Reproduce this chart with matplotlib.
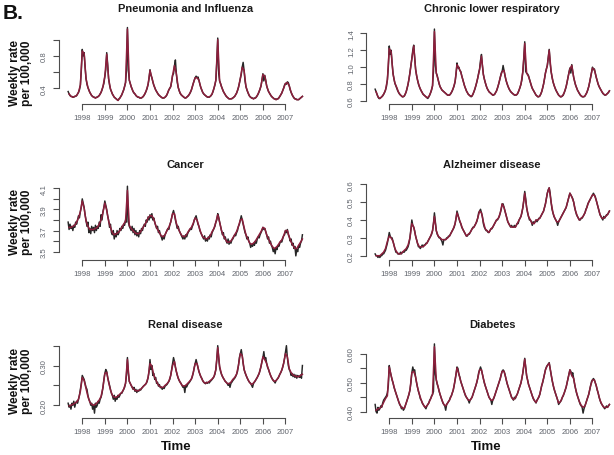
import numpy as np
import matplotlib.pyplot as plt

plt.rcParams['font.family'] = ['Liberation Sans', 'DejaVu Sans']

# observed weekly rates, read off at half-month steps from mid-May 1997
# fitted (model) rates, read off at month starts from June 1997
years = list(range(1998, 2008))

pi_obs = [
    .36, .33, .31, .30, .30, .29, .29, .30, .30, .31, .33, .35, .38, .44, .62,
    .88, .80, .84, .66, .52, .45, .41, .38, .35, .33, .31, .30, .29, .29, .28, .29, .29, .30, .31, .33, .35, .38, .42, .46,
    .55, .63, .84, .70, .52, .44, .39, .36, .33, .31, .29, .28, .27, .26, .25, .27, .28, .30, .32, .35, .38, .42, .47, .62,
    1.15, .62, .50, .46, .42, .39, .36, .34, .33, .31, .30, .29, .29, .28, .28, .28, .29, .30, .32, .34, .37, .40, .45, .52,
    .63, .56, .53, .48, .44, .41, .38, .36, .34, .32, .31, .30, .29, .28, .28, .28, .29, .30, .32, .35, .38, .40, .42, .48,
    .56, .58, .68, .75, .58, .47, .41, .37, .34, .32, .31, .30, .29, .28, .28, .29, .30, .31, .33, .35, .38, .42, .46, .50,
    .53, .55, .53, .54, .50, .45, .41, .38, .35, .33, .32, .31, .30, .29, .29, .29, .30, .31, .33, .36, .40, .44, .50, .72,
    1.02, .58, .49, .46, .42, .39, .36, .34, .32, .30, .29, .28, .27, .27, .27, .27, .28, .29, .30, .32, .34, .37, .41, .46,
    .52, .57, .66, .72, .62, .49, .42, .38, .35, .32, .30, .29, .28, .28, .27, .28, .28, .29, .31, .33, .36, .39, .43, .50,
    .58, .49, .56, .50, .43, .39, .36, .34, .32, .30, .29, .28, .27, .27, .26, .27, .27, .28, .30, .32, .34, .37, .40, .44,
    .46, .45, .48, .47, .43, .38, .35, .32, .30, .28, .27, .27, .26, .26, .26, .27, .28, .29, .30,
]
pi_fit = [
    .33, .30, .29, .30, .31, .35, .44,
    .86, .83, .52, .41, .35, .31, .29, .28, .29, .31, .35, .42,
    .55, .82, .52, .39, .33, .29, .27, .25, .28, .32, .38, .47,
    1.13, .50, .42, .36, .33, .30, .29, .28, .29, .32, .37, .45,
    .62, .53, .44, .38, .34, .31, .29, .28, .29, .32, .38, .42,
    .56, .68, .58, .41, .34, .31, .29, .28, .30, .33, .38, .46,
    .53, .53, .50, .41, .35, .32, .30, .29, .30, .33, .40, .50,
    1.00, .49, .42, .36, .32, .29, .27, .27, .28, .30, .34, .41,
    .52, .66, .62, .42, .35, .30, .28, .27, .28, .31, .36, .43,
    .57, .55, .43, .36, .32, .29, .27, .26, .27, .30, .34, .40,
    .46, .47, .43, .35, .30, .27, .26, .26, .28, .30,
]

clrd_obs = [
    .74, .71, .68, .65, .63, .63, .64, .65, .66, .68, .70, .73, .77, .85, 1.00,
    1.25, 1.15, 1.20, 1.05, .93, .86, .81, .78, .75, .72, .70, .68, .67, .66, .65, .65, .66, .68, .71, .75, .80, .86, .94, 1.02,
    1.10, 1.20, 1.26, 1.12, .98, .90, .85, .80, .77, .74, .72, .70, .68, .67, .66, .65, .64, .63, .65, .67, .70, .73, .78, .95,
    1.45, 1.02, .93, .90, .85, .80, .77, .75, .73, .72, .71, .70, .69, .68, .67, .67, .67, .68, .70, .72, .75, .78, .83, .92,
    1.05, .99, 1.00, .96, .95, .90, .86, .82, .78, .75, .72, .70, .68, .67, .66, .65, .66, .68, .71, .74, .78, .82, .87, .93,
    .98, 1.08, 1.15, 1.02, .92, .86, .82, .78, .75, .73, .71, .70, .69, .68, .67, .67, .68, .70, .72, .75, .79, .83, .88, .93,
    .95, 1.02, .96, .90, .85, .81, .78, .75, .73, .71, .70, .69, .68, .67, .67, .67, .68, .70, .73, .76, .80, .85, .95, 1.10,
    1.30, .95, .93, .92, .90, .86, .82, .78, .75, .73, .71, .69, .67, .66, .65, .65, .66, .68, .71, .75, .80, .86, .93, .98,
    1.02, 1.12, 1.21, 1.05, .95, .88, .83, .79, .76, .73, .71, .69, .67, .66, .65, .65, .66, .67, .70, .73, .77, .82, .88, .94,
    .99, .93, 1.03, .95, .88, .83, .79, .76, .73, .71, .69, .67, .66, .65, .65, .65, .66, .68, .70, .73, .77, .82, .88, .94,
    1.00, .97, .98, .93, .88, .84, .80, .77, .75, .73, .71, .69, .68, .67, .67, .68, .69, .70, .72,
]
clrd_fit = [
    .71, .65, .63, .65, .68, .73, .85,
    1.22, 1.18, .92, .81, .76, .70, .67, .65, .66, .71, .80, .93,
    1.10, 1.25, .97, .85, .77, .72, .68, .66, .64, .65, .70, .78,
    1.42, .93, .85, .77, .73, .71, .69, .67, .67, .70, .75, .83,
    1.03, .99, .94, .86, .78, .72, .68, .66, .66, .71, .78, .87,
    .97, 1.13, .91, .82, .75, .71, .69, .67, .68, .72, .79, .88,
    .95, .96, .85, .78, .73, .70, .68, .67, .68, .73, .80, .95,
    1.28, .93, .89, .82, .75, .71, .67, .65, .66, .71, .80, .93,
    1.02, 1.20, .95, .83, .76, .71, .67, .65, .66, .70, .77, .88,
    .98, 1.02, .88, .79, .73, .69, .66, .65, .66, .70, .77, .88,
    .99, .97, .88, .80, .75, .71, .68, .67, .69, .72,
]

cancer_obs = [
    3.78, 3.71, 3.76, 3.72, 3.74, 3.70, 3.75, 3.73, 3.78, 3.76, 3.80, 3.84, 3.82, 3.88, 3.92,
    4.00, 3.96, 3.92, 3.85, 3.80, 3.74, 3.78, 3.68, 3.72, 3.67, 3.74, 3.70, 3.73, 3.68, 3.75, 3.70, 3.74, 3.72, 3.78, 3.74, 3.85, 3.80, 3.88, 3.92,
    3.98, 3.94, 3.90, 3.84, 3.80, 3.73, 3.76, 3.68, 3.66, 3.70, 3.62, 3.67, 3.64, 3.70, 3.66, 3.68, 3.72, 3.70, 3.74, 3.72, 3.76, 3.75, 3.80, 3.78,
    4.12, 3.78, 3.74, 3.72, 3.70, 3.74, 3.68, 3.72, 3.66, 3.70, 3.65, 3.68, 3.64, 3.70, 3.67, 3.72, 3.70, 3.74, 3.76, 3.74, 3.80, 3.78, 3.83, 3.80,
    3.85, 3.82, 3.86, 3.80, 3.82, 3.78, 3.75, 3.72, 3.74, 3.68, 3.70, 3.66, 3.64, 3.61, 3.65, 3.62, 3.66, 3.68, 3.70, 3.72, 3.71, 3.75, 3.78, 3.82,
    3.86, 3.89, 3.85, 3.80, 3.76, 3.72, 3.74, 3.70, 3.68, 3.66, 3.64, 3.62, 3.65, 3.62, 3.66, 3.64, 3.67, 3.69, 3.70, 3.72, 3.71, 3.74, 3.76, 3.80,
    3.82, 3.84, 3.80, 3.76, 3.74, 3.70, 3.68, 3.66, 3.64, 3.62, 3.65, 3.60, 3.62, 3.60, 3.64, 3.62, 3.66, 3.64, 3.68, 3.70, 3.72, 3.74, 3.78, 3.80,
    3.86, 3.83, 3.78, 3.74, 3.70, 3.66, 3.68, 3.62, 3.64, 3.60, 3.58, 3.62, 3.57, 3.60, 3.58, 3.61, 3.62, 3.64, 3.66, 3.65, 3.68, 3.70, 3.74, 3.76,
    3.80, 3.84, 3.80, 3.76, 3.72, 3.68, 3.66, 3.62, 3.64, 3.60, 3.58, 3.54, 3.57, 3.55, 3.58, 3.56, 3.60, 3.58, 3.62, 3.64, 3.63, 3.66, 3.68, 3.70,
    3.73, 3.71, 3.72, 3.69, 3.66, 3.62, 3.64, 3.58, 3.60, 3.56, 3.54, 3.50, 3.53, 3.48, 3.54, 3.52, 3.56, 3.55, 3.58, 3.60, 3.59, 3.62, 3.65, 3.66,
    3.70, 3.68, 3.71, 3.66, 3.64, 3.60, 3.62, 3.56, 3.58, 3.53, 3.55, 3.46, 3.52, 3.50, 3.56, 3.54, 3.58, 3.60, 3.66,
]
cancer_fit = [
    3.73, 3.73, 3.74, 3.75, 3.78, 3.82, 3.88,
    3.98, 3.91, 3.79, 3.74, 3.71, 3.71, 3.71, 3.72, 3.73, 3.76, 3.80, 3.87,
    3.96, 3.89, 3.79, 3.73, 3.68, 3.66, 3.67, 3.68, 3.70, 3.73, 3.76, 3.79,
    4.08, 3.75, 3.72, 3.70, 3.68, 3.67, 3.67, 3.69, 3.72, 3.75, 3.78, 3.82,
    3.84, 3.84, 3.81, 3.75, 3.71, 3.68, 3.65, 3.64, 3.66, 3.70, 3.73, 3.78,
    3.86, 3.86, 3.77, 3.72, 3.68, 3.65, 3.64, 3.65, 3.68, 3.71, 3.73, 3.77,
    3.82, 3.80, 3.74, 3.68, 3.64, 3.63, 3.62, 3.63, 3.65, 3.69, 3.72, 3.78,
    3.85, 3.78, 3.70, 3.65, 3.62, 3.59, 3.59, 3.60, 3.63, 3.66, 3.69, 3.74,
    3.80, 3.81, 3.73, 3.66, 3.62, 3.58, 3.57, 3.58, 3.60, 3.63, 3.66, 3.69,
    3.73, 3.72, 3.66, 3.62, 3.58, 3.55, 3.53, 3.54, 3.56, 3.59, 3.61, 3.65,
    3.70, 3.70, 3.64, 3.59, 3.56, 3.53, 3.53, 3.56, 3.59, 3.62,
]

alz_obs = [
    .21, .20, .20, .19, .20, .19, .20, .20, .21, .21, .22, .23, .25, .27, .30,
    .33, .31, .30, .30, .28, .26, .24, .22, .22, .21, .21, .21, .22, .21, .22, .22, .22, .23, .23, .24, .25, .27, .30, .35,
    .40, .37, .36, .34, .31, .29, .27, .25, .25, .24, .25, .26, .25, .26, .26, .27, .27, .28, .29, .30, .31, .32, .34, .38,
    .44, .39, .34, .32, .31, .30, .30, .29, .28, .26, .29, .29, .29, .30, .30, .31, .31, .32, .33, .34, .35, .36, .38, .41,
    .45, .43, .41, .39, .38, .36, .35, .34, .33, .32, .31, .31, .32, .32, .33, .34, .35, .36, .36, .37, .38, .39, .41, .44,
    .45, .46, .44, .42, .38, .36, .35, .34, .34, .33, .33, .34, .35, .35, .36, .37, .38, .39, .40, .40, .41, .42, .44, .46,
    .49, .49, .47, .45, .43, .41, .39, .38, .37, .36, .37, .36, .36, .37, .36, .37, .38, .38, .40, .41, .42, .44, .47, .51,
    .56, .52, .47, .44, .42, .40, .40, .39, .37, .39, .38, .39, .40, .39, .40, .41, .41, .42, .43, .44, .45, .47, .49, .52,
    .55, .57, .58, .55, .50, .46, .44, .42, .41, .40, .39, .37, .39, .40, .41, .42, .43, .44, .45, .46, .47, .49, .51, .53,
    .55, .54, .53, .52, .50, .47, .45, .43, .42, .41, .40, .40, .41, .41, .42, .43, .44, .46, .47, .49, .50, .51, .52, .53,
    .54, .55, .54, .53, .51, .49, .47, .45, .43, .42, .41, .40, .42, .41, .42, .43, .43, .44, .45,
]
alz_fit = [
    .20, .20, .20, .21, .22, .24, .28,
    .31, .30, .28, .24, .22, .21, .21, .22, .23, .24, .26, .30,
    .38, .36, .31, .27, .25, .25, .25, .26, .27, .29, .31, .34,
    .42, .34, .31, .30, .29, .29, .29, .30, .31, .33, .35, .38,
    .44, .41, .38, .35, .33, .31, .32, .33, .35, .36, .38, .41,
    .45, .44, .39, .35, .34, .33, .35, .36, .38, .40, .41, .44,
    .49, .47, .43, .39, .37, .36, .36, .36, .38, .40, .42, .47,
    .55, .47, .42, .40, .38, .38, .40, .40, .41, .43, .45, .49,
    .55, .58, .50, .44, .41, .39, .39, .41, .43, .45, .47, .51,
    .55, .53, .50, .45, .42, .40, .41, .42, .44, .47, .50, .52,
    .54, .54, .51, .47, .43, .41, .41, .42, .43, .45,
]

renal_obs = [
    .205, .195, .200, .190, .205, .200, .210, .195, .205, .210, .205, .215, .225, .240, .255,
    .275, .270, .265, .255, .245, .240, .225, .215, .210, .200, .205, .190, .200, .180, .205, .195, .200, .210, .205, .215, .220, .230, .245, .265,
    .280, .290, .285, .270, .260, .250, .240, .230, .225, .215, .225, .210, .220, .215, .225, .220, .225, .230, .230, .235, .240, .245, .255, .275,
    .320, .280, .260, .255, .250, .245, .240, .245, .235, .240, .232, .238, .235, .240, .238, .242, .245, .248, .250, .252, .255, .260, .270, .285,
    .315, .290, .300, .275, .280, .265, .270, .255, .258, .248, .252, .244, .246, .240, .245, .242, .248, .250, .252, .256, .260, .265, .275, .290,
    .305, .320, .310, .295, .285, .275, .268, .262, .258, .255, .250, .245, .248, .232, .250, .246, .252, .255, .258, .262, .266, .272, .282, .295,
    .305, .315, .305, .295, .285, .278, .272, .268, .262, .258, .256, .254, .258, .255, .258, .256, .260, .262, .265, .268, .272, .278, .290, .315,
    .350, .320, .295, .285, .278, .272, .268, .264, .260, .258, .255, .250, .255, .245, .255, .258, .262, .265, .268, .272, .278, .285, .300, .320,
    .330, .340, .325, .305, .290, .282, .276, .270, .265, .260, .257, .255, .250, .245, .255, .258, .262, .266, .270, .275, .280, .288, .298, .310,
    .320, .335, .315, .320, .305, .295, .290, .282, .276, .270, .266, .262, .260, .256, .262, .265, .268, .272, .278, .282, .288, .295, .305, .318,
    .335, .350, .320, .300, .290, .285, .275, .280, .272, .278, .270, .276, .268, .275, .272, .270, .276, .268, .300,
]
renal_fit = [
    .198, .200, .202, .205, .208, .215, .235,
    .270, .262, .242, .222, .208, .202, .200, .202, .207, .213, .222, .245,
    .280, .283, .258, .238, .225, .220, .220, .223, .228, .232, .240, .255,
    .315, .260, .250, .242, .238, .236, .237, .240, .245, .250, .255, .270,
    .305, .298, .276, .265, .254, .248, .245, .245, .250, .254, .260, .275,
    .300, .310, .285, .268, .258, .250, .248, .250, .255, .260, .266, .282,
    .305, .305, .285, .272, .262, .256, .256, .258, .262, .266, .272, .290,
    .345, .298, .278, .268, .260, .255, .254, .258, .265, .270, .278, .300,
    .330, .325, .290, .276, .265, .257, .252, .256, .262, .270, .280, .298,
    .322, .315, .305, .290, .276, .266, .260, .262, .268, .278, .288, .305,
    .330, .322, .292, .282, .276, .274, .272, .272, .275, .278,
]

diab_obs = [
    .425, .400, .395, .415, .405, .410, .420, .415, .430, .440, .445, .450, .455, .465, .490,
    .560, .540, .525, .510, .500, .485, .475, .465, .455, .445, .435, .425, .420, .410, .415, .405, .410, .420, .430, .440, .450, .460, .475, .500,
    .535, .555, .540, .545, .520, .500, .485, .470, .460, .445, .440, .430, .425, .420, .415, .410, .420, .425, .430, .440, .445, .455, .460, .470,
    .635, .530, .510, .495, .485, .470, .460, .450, .440, .430, .425, .420, .405, .425, .430, .435, .440, .450, .455, .465, .475, .490, .510, .530,
    .555, .550, .530, .520, .505, .495, .485, .475, .465, .455, .450, .445, .440, .430, .440, .445, .450, .460, .470, .480, .490, .500, .515, .535,
    .545, .555, .545, .530, .515, .500, .490, .480, .470, .460, .450, .445, .440, .425, .440, .445, .455, .465, .475, .485, .495, .505, .515, .530,
    .540, .545, .540, .530, .515, .500, .490, .480, .470, .460, .450, .445, .440, .450, .445, .455, .460, .470, .480, .490, .500, .515, .535, .560,
    .585, .555, .525, .510, .495, .485, .475, .465, .455, .445, .440, .435, .430, .440, .445, .450, .460, .475, .490, .500, .515, .530, .545, .555,
    .560, .565, .570, .550, .530, .510, .495, .480, .470, .460, .450, .440, .425, .430, .435, .440, .450, .455, .465, .475, .485, .500, .515, .530,
    .545, .540, .525, .535, .515, .495, .480, .465, .455, .445, .435, .425, .420, .415, .395, .410, .420, .430, .440, .450, .460, .475, .490, .505,
    .510, .515, .510, .500, .490, .475, .465, .450, .440, .430, .425, .420, .415, .410, .415, .420, .415, .420, .425,
]
diab_fit = [
    .405, .410, .412, .418, .432, .445, .455,
    .555, .525, .500, .475, .455, .435, .420, .412, .412, .430, .450, .475,
    .535, .540, .520, .485, .460, .440, .425, .415, .420, .430, .445, .460,
    .625, .510, .485, .460, .440, .425, .420, .430, .440, .455, .475, .510,
    .552, .530, .505, .485, .465, .450, .440, .440, .450, .470, .490, .515,
    .545, .545, .515, .490, .470, .450, .440, .440, .455, .475, .495, .515,
    .540, .540, .515, .490, .470, .450, .442, .448, .460, .480, .500, .535,
    .582, .525, .495, .475, .455, .440, .432, .445, .460, .490, .515, .545,
    .560, .568, .530, .495, .470, .450, .430, .435, .450, .465, .485, .515,
    .545, .525, .515, .480, .455, .435, .422, .415, .420, .440, .460, .490,
    .510, .510, .490, .465, .440, .425, .415, .415, .415, .425,
]

titles = ['Pneumonia and Influenza', 'Chronic lower respiratory', 'Cancer',
          'Alzheimer disease', 'Renal disease', 'Diabetes']
obs_series = [pi_obs, clrd_obs, cancer_obs, alz_obs, renal_obs, diab_obs]
fit_series = [pi_fit, clrd_fit, cancer_fit, alz_fit, renal_fit, diab_fit]
y_ticks = [
    [0.4, 0.6, 0.8, 1.0],
    [0.6, 0.8, 1.0, 1.2, 1.4],
    [3.5, 3.6, 3.7, 3.8, 3.9, 4.0, 4.1],
    [0.2, 0.3, 0.4, 0.5, 0.6],
    [0.20, 0.25, 0.30, 0.35],
    [0.40, 0.45, 0.50, 0.55, 0.60],
]
y_labels = [
    ['0.4', '', '0.8', ''],
    ['0.6', '0.8', '1.0', '1.2', '1.4'],
    ['3.5', '', '3.7', '', '3.9', '', '4.1'],
    ['0.2', '0.3', '0.4', '0.5', '0.6'],
    ['0.20', '', '0.30', ''],
    ['0.40', '', '0.50', '', '0.60'],
]
y_limits = [(0.206, 1.175), (0.565, 1.492), (3.421, 4.157),
            (0.176, 0.611), (0.167, 0.361), (0.377, 0.644)]

OBS_START = 1997.375      # mid-May 1997, two samples per month
FIT_START = 1997 + 5 / 12  # 1 June 1997, one sample per month

W, H = 614, 456
cols = [(59, 311), (366, 618)]
rows = [(26.5, 105), (183.3, 261), (342.3, 419.3)]
title_x = [185.5, 492]
axis_col = '#4d4d4d'
label_col = '#60646c'

fig = plt.figure(figsize=(W / 100, H / 100), dpi=100)

for i, title in enumerate(titles):
    r, c = divmod(i, 2)
    x0, x1 = cols[c]
    y0, y1 = rows[r]
    ax = fig.add_axes([x0 / W, 1 - y1 / H, (x1 - x0) / W, (y1 - y0) / H])

    obs = obs_series[i]
    fit = fit_series[i]
    t_obs = OBS_START + np.arange(len(obs)) / 24
    t_fit = FIT_START + np.arange(len(fit)) / 12
    ax.plot(t_obs, obs, color='#262626', lw=1.05)
    ax.plot(t_fit, fit, color='#8c1f3c', lw=1.1)

    ax.set_xlim(1996.97, 2008.13)
    ax.set_ylim(*y_limits[i])
    ax.patch.set_visible(False)

    for side in ['top', 'right']:
        ax.spines[side].set_visible(False)
    ax.spines['left'].set_bounds(y_ticks[i][0], y_ticks[i][-1])
    ax.spines['bottom'].set_bounds(years[0], years[-1])
    for side in ['left', 'bottom']:
        ax.spines[side].set_color(axis_col)
        ax.spines[side].set_linewidth(0.8)

    ax.set_xticks(years)
    ax.set_xticklabels([str(y) for y in years])
    ax.set_yticks(y_ticks[i])
    ax.set_yticklabels(y_labels[i], rotation=90, va='center')
    ax.tick_params(direction='out', length=4, width=0.8, color=axis_col,
                   labelcolor=label_col, labelsize=5.6)
    ax.tick_params(axis='x', pad=3)
    ax.tick_params(axis='y', pad=4)

    fig.text(title_x[c] / W, 1 - (y0 - 17.8) / H, title, ha='center', va='center',
             fontsize=8, fontweight='bold', color='#1a1a1a')

# row labels
for yc in [73.5, 222.5, 381]:
    fig.text(21 / W, 1 - yc / H, 'Weekly rate\nper 100,000', rotation=90,
             ha='center', va='center', fontsize=8.6, fontweight='bold',
             linespacing=1.0, color='#111111')

for xc in [176, 486]:
    fig.text(xc / W, 1 - 447 / H, 'Time', ha='center', va='center',
             fontsize=9.5, fontweight='bold', color='#111111')

fig.text(13 / W, 1 - 13.5 / H, 'B.', ha='center', va='center',
         fontsize=15, fontweight='bold', color='#111111')

fig.savefig('out.png', dpi=100)
